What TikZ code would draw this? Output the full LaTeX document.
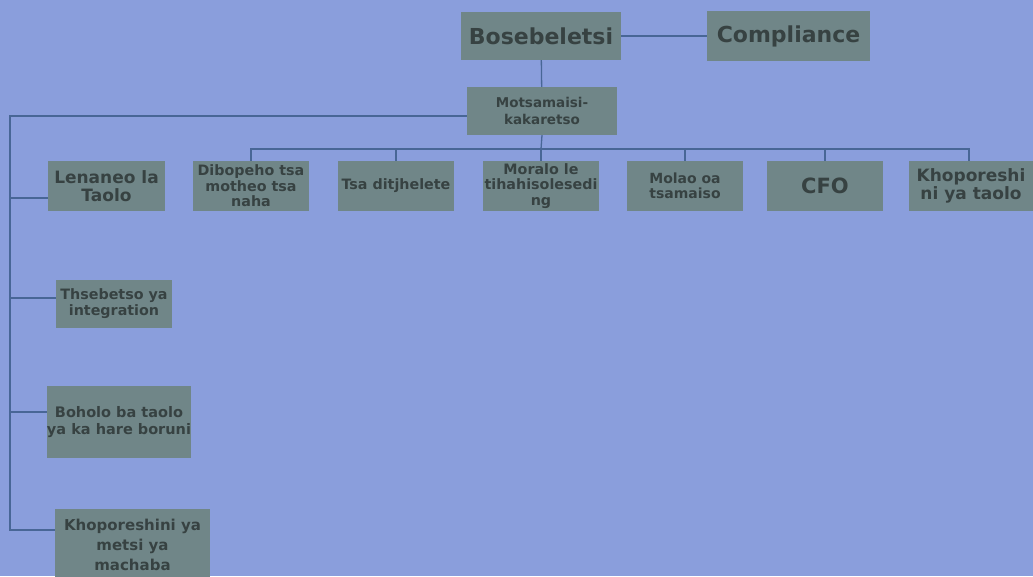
\documentclass[tikz,border=0pt]{standalone}
\usepackage{fontspec}
\setmainfont{DejaVu Sans}
\definecolor{bg}{RGB}{138,158,220}
\definecolor{boxc}{RGB}{112,134,136}
\definecolor{txt}{RGB}{55,66,66}
\definecolor{ln}{RGB}{72,102,150}
\begin{document}
\begin{tikzpicture}[x=1pt,y=-1pt,
  box/.style={fill=boxc,draw=none,inner sep=0pt,align=center,text=txt,font=\bfseries},
  conn/.style={draw=ln,line width=1.3pt}]
\useasboundingbox (0,0) rectangle (1033,576);
\clip (0,0) rectangle (1033,576);
\fill[bg] (0,0) rectangle (1033,576);
% top
\node[box,minimum width=160,minimum height=48,font=\bfseries\fontsize{22}{24}\selectfont] (bos) at (541,36) {Bosebeletsi};
\node[box,minimum width=163,minimum height=50,font=\bfseries\fontsize{22}{24}\selectfont] (comp) at (788.5,36) {Compliance};
\node[box,minimum width=150,minimum height=48,font=\bfseries\fontsize{13.5}{17}\selectfont] (mot) at (542,111) {Motsamaisi-\\kakaretso};
% row
\node[box,minimum width=117,minimum height=50,font=\bfseries\fontsize{17}{18}\selectfont] (len) at (106.5,186) {Lenaneo la\\Taolo};
\node[box,minimum width=116,minimum height=50,font=\bfseries\fontsize{14.3}{15.5}\selectfont] (dib) at (251,186) {Dibopeho tsa\\motheo tsa\\naha};
\node[box,minimum width=116,minimum height=50,font=\bfseries\fontsize{14.3}{15}\selectfont] (tsa) at (396,186) {Tsa ditjhelete};
\node[box,minimum width=116,minimum height=50,font=\bfseries\fontsize{14.3}{15.5}\selectfont] (mor) at (541,186) {Moralo le\\tihahisolesedi\\ng};
\node[box,minimum width=116,minimum height=50,font=\bfseries\fontsize{14}{15.5}\selectfont] (mol) at (685,186) {Molao oa\\tsamaiso};
\node[box,minimum width=116,minimum height=50,font=\bfseries\fontsize{21}{22}\selectfont] (cfo) at (825,186) {CFO};
\node[box,minimum width=124,minimum height=50,font=\bfseries\fontsize{17}{17.5}\selectfont] (kho) at (971,186) {Khoporeshi\\ni ya taolo};
% left column
\node[box,minimum width=116,minimum height=48,font=\bfseries\fontsize{14.3}{16}\selectfont] (ths) at (114,304) {Thsebetso ya\\integration};
\node[box,minimum width=142,minimum height=72,font=\bfseries\fontsize{14.5}{17}\selectfont] (boh) at (119,422) {Boholo ba taolo\\ya ka hare boruni};
\node[box,minimum width=155,minimum height=72,font=\bfseries\fontsize{15}{20}\selectfont] (met) at (132.5,545) {Khoporeshini ya\\metsi ya\\machaba};
% connectors
\draw[conn] (bos) -- (comp);
\draw[conn] (bos) -- (mot);
\coordinate (bus) at (541,149);
\draw[conn] (mot.south) -- (bus);
\foreach \n in {dib,tsa,mor,mol,cfo} \draw[conn] (\n.north) |- (bus);
\draw[conn] ([xshift=-2pt]kho.north) |- (bus);
\coordinate (lt) at (10,116);
\coordinate (lb) at (10,530);
\draw[conn] (mot.west |- lt) -- (lt) -- (lb) -- (met.west |- lb);
\draw[conn] (lt |- 0,198) -- (len.west |- 0,198);
\draw[conn] (lt |- 0,298) -- (ths.west |- 0,298);
\draw[conn] (lt |- 0,412) -- (boh.west |- 0,412);
\end{tikzpicture}
\end{document}
